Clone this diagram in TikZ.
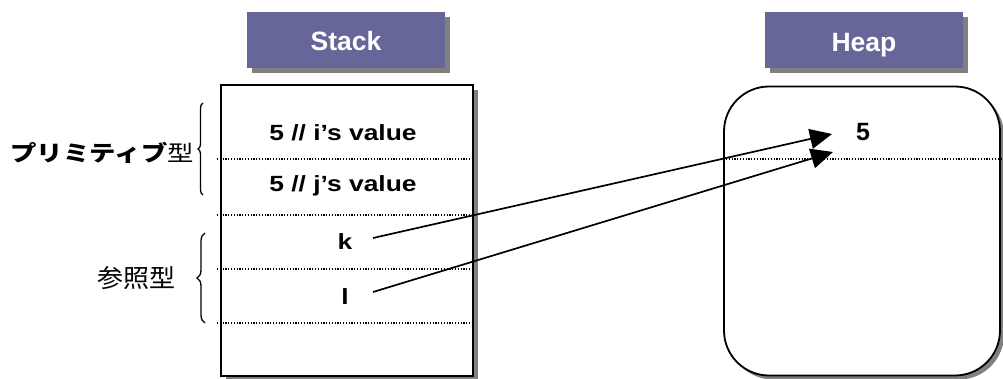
\documentclass[tikz,border=0pt]{standalone}
\usepackage{fontspec}
\setmainfont{Liberation Sans}
\newfontfamily\cjk{Noto Sans CJK JP}
\usetikzlibrary{arrows.meta,shadows,decorations.pathreplacing}
\definecolor{titlecol}{HTML}{666699}
\definecolor{shadowcol}{HTML}{808080}
\tikzset{
  titlebox/.style={fill=titlecol, minimum width=198pt, minimum height=56pt, inner sep=0pt,
    drop shadow={shadow xshift=5pt, shadow yshift=-5pt, fill=shadowcol, opacity=1}},
  titletext/.style={inner sep=0pt, anchor=base, text=white, font=\fontsize{26.5}{30}\selectfont\bfseries},
  stackbox/.style={draw=black, line width=1.8pt, fill=white, minimum width=252pt, minimum height=291pt, inner sep=0pt,
    drop shadow={shadow xshift=5pt, shadow yshift=-5pt, fill=shadowcol, opacity=1}},
  heapbox/.style={draw=black, line width=1.8pt, fill=white, rounded corners=45pt, minimum width=276pt, minimum height=289pt, inner sep=0pt,
    drop shadow={shadow xshift=4pt, shadow yshift=-4pt, fill=shadowcol, opacity=1}},
  cell/.style={inner sep=0pt, font=\fontsize{22}{26}\selectfont\bfseries},
  heapval/.style={inner sep=0pt, font=\fontsize{25}{29}\selectfont\bfseries},
  dotline/.style={line width=1.1pt, dash pattern=on 1.2pt off 1.6pt},
  ptr/.style={line width=1.7pt, -{Triangle[length=22pt,width=20pt]}},
  bracestyle/.style={line width=1.3pt, decorate, decoration={brace, amplitude=#1}},
  label/.style={inner sep=0pt, anchor=east}
}
\newcommand{\sx}[2]{\scalebox{#1}[1]{#2}}
\begin{document}
\begin{tikzpicture}[x=1pt,y=-1pt]
\useasboundingbox (0,0) rectangle (1003,378);
% titles
\node[titlebox] (stacktitle) at (346,40) {};
\node[titletext] (stacklabel) at (346,50) {Stack};
\node[titlebox] (heaptitle) at (864,40) {};
\node[titletext] (heaplabel) at (864,51) {Heap};
% stack
\node[stackbox] (stack) at (347,230.5) {};
\draw[dotline] (217,159) -- (473,159);
\draw[dotline] (217,215) -- (473,215);
\draw[dotline] (217,269) -- (473,269);
\draw[dotline] (217,323) -- (473,323);
\node[cell] (ival) at (343,133) {\sx{1.2}{5 // i’s value}};
\node[cell] (jval) at (343,186) {\sx{1.2}{5 // j’s value}};
\node[cell] (k) at (345,242) {\sx{1.2}{k}};
\node[cell] (l) at (345,297) {\sx{1.2}{l}};
% heap
\node[heapbox] (heap) at (862,231) {};
\draw[dotline] (726,159) -- (1003,159);
\node[heapval] (five) at (863,132) {5};
% braces
\draw[bracestyle=5pt] (203,195) -- (203,103);
\draw[bracestyle=8pt] (205,323) -- (205,233);
% labels
\node[label] (prim) at (194,153) {\sx{1.2}{\cjk\fontsize{22}{26}\selectfont\bfseries プリミティブ\mdseries 型}};
\node[label] (ref) at (176,278) {\sx{1.04}{\cjk\fontsize{25}{29}\selectfont 参照型}};
% pointers
\coordinate (kstart) at (373,238);
\coordinate (lstart) at (373,292);
\coordinate (tip1) at (832,134);
\coordinate (tip2) at (833,152);
\draw[ptr] (kstart) -- (tip1);
\draw[ptr] (lstart) -- (tip2);
\end{tikzpicture}
\end{document}
